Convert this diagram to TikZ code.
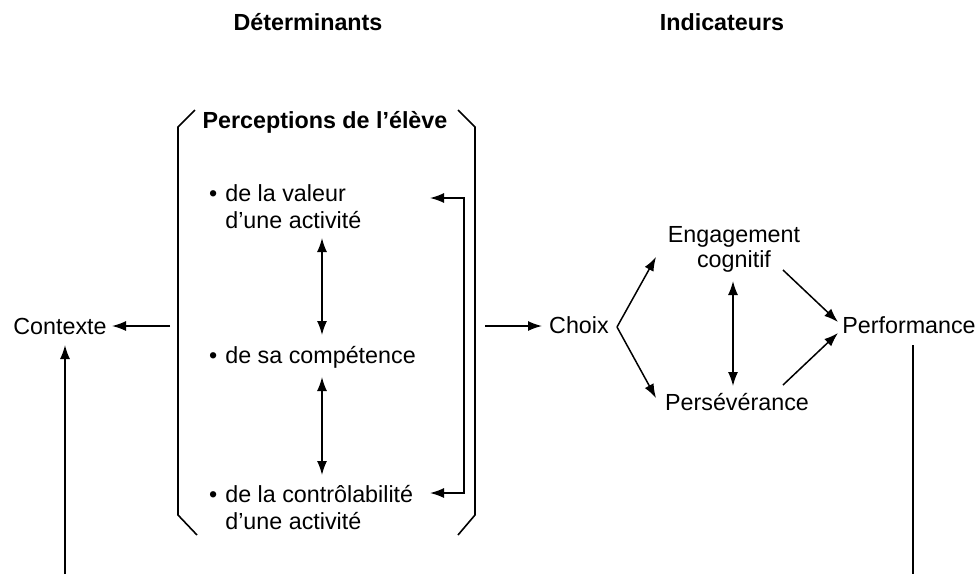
\documentclass[tikz,border=0pt]{standalone}
\usepackage{fontspec}
\setmainfont{Liberation Sans}
\usetikzlibrary{arrows.meta}
\newcommand{\bul}{•\hspace{8pt}}
\newcommand{\nobul}{\phantom{•}\hspace{8pt}}
\begin{document}
\begin{tikzpicture}[x=1pt,y=-1pt,
  txt/.style={font=\fontsize{23.3}{27}\selectfont, inner sep=0pt},
  ttl/.style={font=\fontsize{23.3}{27}\selectfont\bfseries, inner sep=0pt},
  arr/.style={-{Latex[length=14pt,width=10pt]}, line width=1.5pt},
  darr/.style={{Latex[length=14pt,width=10pt]}-{Latex[length=14pt,width=10pt]}, line width=1.5pt},
  brk/.style={line width=1.6pt},
  lin/.style={line width=1.5pt}]
\useasboundingbox (0,0) rectangle (978,574);

% titles
\node[ttl, anchor=base] (det) at (308,30) {Déterminants};
\node[ttl, anchor=base] (ind) at (722,30) {Indicateurs};
\node[ttl, anchor=base] (perc) at (325,128) {Perceptions de l’élève};

% bracket
\draw[brk] (195,110) -- (178,127) -- (178,515) -- (197,535);
\draw[brk] (458,110) -- (475,127) -- (475,515) -- (458,535);

% bullet items
\node[txt, anchor=north west, align=left] (val) at (209,184) {\bul de la valeur\\\nobul d’une activité};
\node[txt, anchor=base west] (comp) at (209,363) {\bul de sa compétence};
\node[txt, anchor=north west, align=left] (ctrl) at (209,485) {\bul de la contrôlabilité\\\nobul d’une activité};

\coordinate (d1a) at (322,238);
\coordinate (d1b) at (322,335);
\coordinate (d2a) at (322,377);
\coordinate (d2b) at (322,475);
\draw[darr] (d1a) -- (d1b);
\draw[darr] (d2a) -- (d2b);

\coordinate (fbt) at (464,198);
\coordinate (fbb) at (464,493);
\coordinate (fvt) at (430,198);
\coordinate (fvb) at (430,493);
\draw[darr] (fvt) -- (fbt) -- (fbb) -- (fvb);

% left side
\node[txt, anchor=base] (ctx) at (60,334) {Contexte};
\coordinate (bl) at (170,326);
\draw[arr] (bl) -- (112,326);
\coordinate (bot1) at (65,574);
\draw[arr] (bot1) -- (65,345);

% right side
\node[txt, anchor=base] (choix) at (579,333) {Choix};
\coordinate (br) at (485,326);
\draw[arr] (br) -- (542,326);
\coordinate (cx) at (617,327);
\coordinate (eg1) at (656,257);
\coordinate (ps1) at (656,398);
\draw[arr] (cx) -- (eg1);
\draw[arr] (cx) -- (ps1);

\node[txt, anchor=base] (eng) at (734,242) {Engagement};
\node[txt, anchor=base] (cog) at (734,267) {cognitif};
\node[txt, anchor=base] (pers) at (737,410) {Persévérance};
\node[txt, anchor=base] (perf) at (909,333) {Performance};

\coordinate (v1) at (733,281);
\coordinate (v2) at (733,386);
\draw[darr] (v1) -- (v2);

\coordinate (e1) at (783,270);
\coordinate (e2) at (838,322);
\coordinate (p1) at (783,385);
\coordinate (p2) at (838,333);
\draw[arr] (e1) -- (e2);
\draw[arr] (p1) -- (p2);

\coordinate (bot2) at (913,574);
\draw[lin] (913,345) -- (bot2);
\end{tikzpicture}
\end{document}
